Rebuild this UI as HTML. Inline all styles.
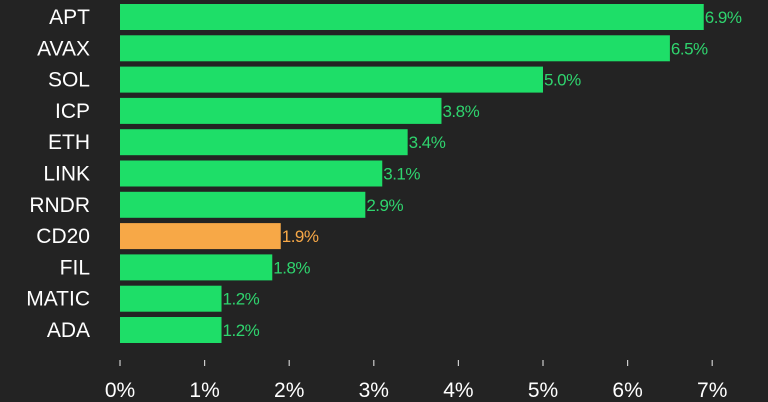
<!DOCTYPE html>
<html><head><meta charset="utf-8"><style>
html,body{margin:0;padding:0;background:#232323;}
svg{display:block;font-family:"Liberation Sans",sans-serif;}
</style></head><body>
<svg id="chart" width="768" height="402"></svg>
<script>
const categories=["APT","AVAX","SOL","ICP","ETH","LINK","RNDR","CD20","FIL","MATIC","ADA"];
const values=[6.9,6.5,5.0,3.8,3.4,3.1,2.9,1.9,1.8,1.2,1.2];
const valueLabels=["6.9%","6.5%","5.0%","3.8%","3.4%","3.1%","2.9%","1.9%","1.8%","1.2%","1.2%"];
const highlight=["CD20"];
const ticks=[0,1,2,3,4,5,6,7];
const NS="http://www.w3.org/2000/svg";
const svg=document.getElementById('chart');
const x0=120,pxPer=84.6;
const xs=v=>x0+v*pxPer;
const ys=i=>4+i*31.3;
const bh=26;
function mk(t,a){const e=document.createElementNS(NS,t);for(const k in a)e.setAttribute(k,a[k]);svg.appendChild(e);return e;}
categories.forEach((c,i)=>{
  const hi=highlight.includes(c);
  const r=mk('rect',{x:x0,y:ys(i),width:xs(values[i])-x0,height:bh,fill:hi?'#f7a847':'#1ede68'});
  
  
  const l=mk('text',{x:90,y:ys(i)+bh/2+7,'text-anchor':'end','font-size':21,fill:'#ffffff'});
  l.textContent=c;
  
  
  const v=mk('text',{x:xs(values[i])+1,y:ys(i)+bh/2+6,'font-size':17,fill:hi?'#f7a847':'#2fd46e','letter-spacing':'-0.5'});
  v.textContent=valueLabels[i];
  
  
});
ticks.forEach(t=>{
  const tk=mk('line',{x1:xs(t),x2:xs(t),y1:360,y2:366,stroke:'#cccccc','stroke-width':1.2});
  
  
  const tl=mk('text',{x:xs(t),y:397,'text-anchor':'middle','font-size':21,fill:'#ffffff'});
  tl.textContent=t+'%';
  
  
});
</script>
</body></html>
